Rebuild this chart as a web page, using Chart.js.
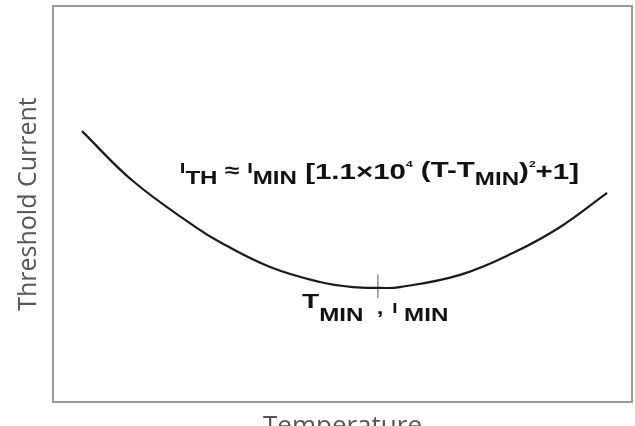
<!DOCTYPE html>
<html>
<head>
<meta charset="utf-8">
<script src="https://cdn.jsdelivr.net/npm/chart.js@4.4.0/dist/chart.umd.min.js"></script>
<style>
  html, body { margin: 0; padding: 0; background: #fff; }
</style>
</head>
<body>
<canvas id="threshold-chart" width="635" height="426"></canvas>
<script>
// Curve (arbitrary units, 0-100 on both axes)
const temperature = [5.0, 13.8, 24.9, 28.8, 37.5, 46.1, 51.8, 56.5, 59.9, 70.3, 79.4, 87.6, 95.7]
const thresholdCurrent = [68.4, 55.8, 43.9, 40.4, 34.1, 30.3, 29.0, 28.8, 29.0, 32.1, 37.6, 44.2, 52.8]

// Small vertical tick marking the minimum
const minTickX = [56.1, 56.1]
const minTickY = [32.2, 26.3]

const xTitle = "Temperature"
const yTitle = "Threshold Current"

// Where the two labels start (data units)
const formulaAt = [21.9, 56.3]
const minLabelAt = [43.0, 23.7]

const formulaParts = [
    { text: "I", size: 15, dy: -6 },
    { text: "TH", size: 18, dy: 5 },
    { text: " \u2248 ", size: 20, dy: -2 },
    { text: "I", size: 15, dy: -6 },
    { text: "MIN", size: 18, dy: 5 },
    { text: " [1.1\u00d710", size: 22, dy: 0 },
    { text: "4", size: 9, dy: -12 },
    { text: " (T-T", size: 22, dy: -2 },
    { text: "MIN", size: 18, dy: 6 },
    { text: ")", size: 22, dy: -1 },
    { text: "2", size: 9, dy: -12 },
    { text: "+1]", size: 22, dy: 0 }
]

const minLabelParts = [
    { text: "T", size: 21, dy: 0 },
    { text: "MIN", size: 18, dy: 13 },
    { text: "  , ", size: 18, dy: 6, gap: 1.5 },
    { text: "I", size: 14, dy: 5, gap: 5 },
    { text: "MIN", size: 18, dy: 13 }
]

const toPoints = (xs, ys) => xs.map((x, i) => ({ x: x, y: ys[i] }))

// Draws a run of text pieces one after another, slightly stretched sideways like the original
const drawRichText = (ctx, x, y, parts) => {
    ctx.save()
    ctx.translate(x, y)
    ctx.scale(1.34, 1)
    ctx.fillStyle = "#111"
    ctx.textBaseline = "alphabetic"
    let cursor = 0
    parts.forEach((p) => {
        ctx.font = `bold ${p.size}px "Liberation Sans", Arial, sans-serif`
        ctx.fillText(p.text, cursor, p.dy)
        cursor += ctx.measureText(p.text).width + (p.gap || 0)
    })
    ctx.restore()
}

const labelsPlugin = {
    id: "labels",
    afterDatasetsDraw(chart) {
        const { ctx, scales } = chart
        drawRichText(ctx, scales.x.getPixelForValue(formulaAt[0]), scales.y.getPixelForValue(formulaAt[1]), formulaParts)
        drawRichText(ctx, scales.x.getPixelForValue(minLabelAt[0]), scales.y.getPixelForValue(minLabelAt[1]), minLabelParts)
    }
}

const frame = { display: true, color: "#9a9a9a", width: 2 }
const noGrid = { display: false, drawTicks: false }

const chartCtx = document.getElementById("threshold-chart")

new Chart(chartCtx, {
    type: "line",
    data: {
        datasets: [
            {
                data: toPoints(temperature, thresholdCurrent),
                borderColor: "#1a1a1a",
                borderWidth: 2.2,
                pointRadius: 0,
                tension: 0.4
            },
            {
                data: toPoints(minTickX, minTickY),
                borderColor: "#9a9a9a",
                borderWidth: 1,
                pointRadius: 0
            }
        ]
    },
    options: {
        responsive: false,
        animation: false,
        layout: { padding: { top: 6, right: 3, left: 0, bottom: 0 } },
        plugins: {
            legend: { display: false },
            tooltip: { enabled: false }
        },
        scales: {
            x: {
                type: "linear",
                position: "bottom",
                min: 0,
                max: 100,
                ticks: { display: false },
                grid: noGrid,
                border: frame,
                title: {
                    display: true,
                    text: xTitle,
                    color: "#555",
                    font: { family: "'Open Sans', sans-serif", size: 26, lineHeight: 1 },
                    padding: { top: 12, bottom: -14 }
                }
            },
            x2: {
                type: "linear",
                position: "top",
                ticks: { display: false },
                grid: noGrid,
                border: frame
            },
            y: {
                type: "linear",
                position: "left",
                min: 0,
                max: 100,
                ticks: { display: false },
                grid: noGrid,
                border: frame,
                title: {
                    display: true,
                    text: yTitle,
                    color: "#555",
                    font: { family: "'Open Sans', sans-serif", size: 25, lineHeight: 1 },
                    padding: { top: 16.5, bottom: 11.5 }
                }
            },
            y2: {
                type: "linear",
                position: "right",
                ticks: { display: false },
                grid: noGrid,
                border: frame
            }
        }
    },
    plugins: [labelsPlugin]
})
</script>
</body>
</html>
